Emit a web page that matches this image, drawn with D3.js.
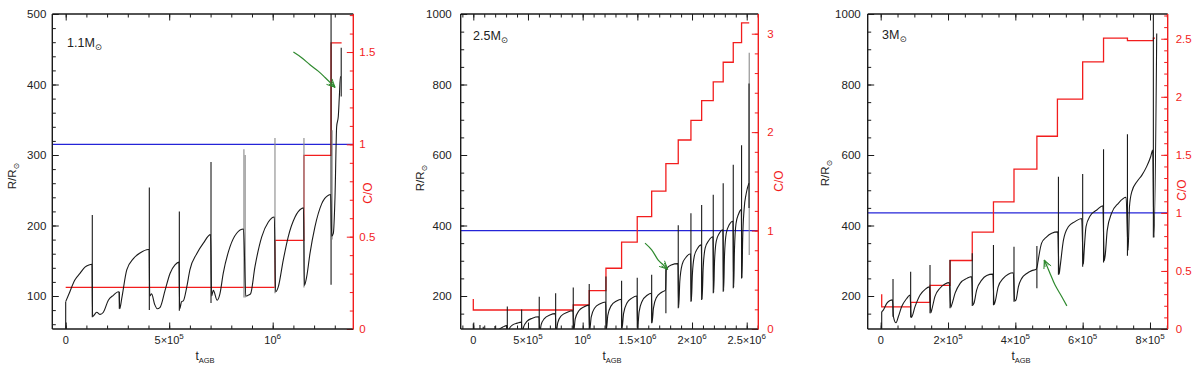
<!DOCTYPE html>
<html>
<head>
<meta charset="utf-8">
<script src="https://cdn.jsdelivr.net/npm/d3@7"></script>
<style>
  body { margin: 0; background: #fff; }
  text { font-family: "Liberation Sans", "DejaVu Sans", sans-serif; }
</style>
</head>
<body>
<svg id="chart" width="1200" height="370"></svg>
<script>
// Time is in units of 1e5 yr, radius in R_sun, C/O is the number ratio.

// ---- 1.1 Msun ----
var P1_CURVE = [
  [0.00, 92], [0.13, 101], [0.45, 123], [0.69, 132], [0.93, 141], [1.12, 144], [1.27, 145],
  [1.30, 71], [1.50, 77], [1.66, 74], [1.82, 77], [2.06, 94], [2.30, 101], [2.54, 106], [2.58, 105],
  [2.61, 82], [2.71, 97], [2.95, 137], [3.27, 153], [3.59, 161], [3.99, 166], [4.03, 166],
  [4.06, 100], [4.15, 103], [4.30, 88], [4.42, 82], [4.56, 84], [4.80, 108], [5.04, 132], [5.28, 144], [5.47, 148],
  [5.51, 82], [5.60, 92], [5.68, 93], [5.85, 113], [6.00, 137], [6.33, 160], [6.65, 175], [7.00, 187],
  [7.05, 100], [7.13, 108], [7.32, 94], [7.45, 103], [7.61, 132], [7.94, 170], [8.26, 189], [8.59, 195],
  [8.70, 100], [8.81, 101], [8.93, 103], [9.14, 141], [9.47, 184], [9.79, 205], [10.08, 212],
  [10.14, 106], [10.27, 113], [10.51, 151], [10.75, 184], [11.08, 212], [11.40, 224], [11.49, 225],
  [11.53, 115], [11.64, 127], [11.80, 160], [12.04, 198], [12.37, 231], [12.69, 243], [12.80, 244],
  [12.85, 185], [12.93, 189], [13.01, 240], [13.09, 340], [13.17, 355], [13.22, 383], [13.27, 411], [13.30, 411]
];
// [time, top, bottom, grey]
var P1_SPIKES = [
  [0, 92, 50, 0], [1.285, 215, 70, 0], [2.59, 106, 82, 0], [4.04, 254, 80, 0], [5.49, 220, 79, 0],
  [7.02, 290, 90, 0], [8.61, 308, 98, 1], [8.67, 300, 98, 1], [10.11, 324, 104, 1], [11.51, 324, 112, 1],
  [12.82, 510, 116, 0], [12.87, 335, 180, 1], [13.31, 452, 383, 0]
];
var P1_CO = [[0, 0.225], [10.11, 0.48], [11.51, 0.94], [12.82, 1.55], [13.33, 1.55]];
var P1_ARROW = [[11.0, 446], [11.4, 438], [11.8, 428], [12.2, 419], [12.53, 410], [13.01, 396]];

// ---- 2.5 Msun ----
var P2_CURVE = [
  [0.0, 95], [0.3, 98], [0.58, 100], [0.65, 92], [0.88, 100], [0.95, 92], [1.5, 100], [1.95, 102],
  [2.0, 92], [2.3, 104], [2.7, 112], [3.08, 116],
  [3.15, 92], [3.3, 108], [3.6, 118], [4.0, 123], [4.40, 126],
  [4.46, 92], [4.6, 112], [4.9, 128], [5.4, 137], [6.0, 141],
  [6.07, 92], [6.2, 118], [6.5, 136], [7.0, 146], [7.5, 150],
  [7.57, 95], [7.72, 124], [8.05, 144], [8.6, 154], [9.11, 158],
  [9.18, 100], [9.32, 135], [9.65, 158], [10.1, 169], [10.57, 174],
  [10.64, 102], [10.78, 140], [11.1, 166], [11.6, 178], [12.10, 183],
  [12.17, 105], [12.3, 145], [12.6, 172], [13.1, 186], [13.53, 191],
  [13.60, 108], [13.74, 150], [14.05, 180], [14.5, 194], [14.96, 200],
  [15.03, 112], [15.16, 155], [15.45, 186], [15.9, 202], [16.28, 208],
  [16.35, 125], [16.47, 165], [16.75, 196], [17.2, 210], [17.58, 217],
  [17.64, 274], [17.8, 282], [18.1, 288], [18.71, 292],
  [18.78, 168], [18.88, 240], [19.1, 290], [19.45, 310], [19.87, 320],
  [19.94, 186], [20.03, 260], [20.2, 312], [20.5, 335], [20.85, 345],
  [20.92, 192], [21.02, 280], [21.2, 336], [21.55, 358], [21.91, 368],
  [21.98, 210], [22.06, 300], [22.22, 356], [22.5, 378], [22.82, 388],
  [22.89, 215], [22.97, 315], [23.13, 378], [23.4, 402], [23.74, 412],
  [23.81, 225], [23.88, 330], [24.02, 405], [24.25, 432], [24.50, 445],
  [24.57, 252], [24.63, 360], [24.76, 445], [24.95, 490], [25.20, 520]
];
var P2_SPIKES = [
  [0.0, 122, 92, 0], [0.61, 118, 92, 0], [0.91, 113, 92, 0], [1.98, 115, 92, 0],
  [3.11, 170, 92, 0], [4.42, 162, 92, 0], [6.03, 198, 92, 0], [7.53, 208, 95, 0], [9.14, 224, 100, 0],
  [10.60, 234, 100, 0], [12.13, 255, 105, 0], [13.56, 243, 108, 0], [14.99, 252, 110, 0], [16.31, 260, 123, 0],
  [17.61, 283, 151, 0], [18.74, 401, 165, 0], [19.90, 435, 184, 0], [20.88, 458, 189, 0], [21.94, 487, 208, 0],
  [22.85, 520, 212, 0], [23.77, 572, 222, 0], [24.53, 628, 250, 0], [25.23, 890, 316, 1], [25.21, 803, 450, 0]
];
var P2_CO = [
  [0, 0.305], [0, 0.193], [9.14, 0.244], [10.60, 0.39], [12.13, 0.617], [13.56, 0.882], [14.99, 1.142],
  [16.31, 1.40], [17.61, 1.68], [18.74, 1.92], [19.90, 2.12], [20.88, 2.32], [21.94, 2.51], [22.85, 2.71],
  [23.77, 2.91], [24.53, 3.11], [25.23, 3.11]
];
var P2_ARROW = [[15.7, 350], [16.31, 331], [16.91, 302], [17.37, 288], [17.77, 276]];

// ---- 3 Msun ----
var P3_CURVE = [
  [0.03, 155], [0.077, 160], [0.18, 179], [0.276, 187], [0.35, 189],
  [0.38, 141], [0.455, 124], [0.523, 141], [0.624, 170], [0.773, 193], [0.87, 203],
  [0.91, 139], [1.02, 170], [1.17, 203], [1.32, 219], [1.45, 226],
  [1.49, 152], [1.515, 160], [1.61, 198], [1.76, 222], [1.91, 234], [2.04, 238],
  [2.08, 168], [2.11, 175], [2.21, 208], [2.36, 236], [2.56, 250], [2.70, 255],
  [2.74, 174], [2.77, 179], [2.85, 217], [3.00, 245], [3.15, 258], [3.33, 262],
  [3.37, 176], [3.40, 184], [3.49, 226], [3.64, 250], [3.79, 262], [3.94, 266],
  [3.98, 186], [4.02, 189], [4.09, 226], [4.19, 250], [4.34, 264], [4.49, 272], [4.62, 276],
  [4.66, 290], [4.68, 302], [4.78, 350], [4.93, 368], [5.08, 378], [5.26, 382],
  [5.30, 262], [5.33, 283], [5.43, 359], [5.58, 397], [5.77, 411], [5.97, 420],
  [6.02, 290], [6.04, 321], [6.10, 397], [6.22, 427], [6.42, 444], [6.60, 456],
  [6.64, 300], [6.67, 316], [6.73, 387], [6.86, 435], [7.06, 463], [7.29, 480],
  [7.35, 330], [7.39, 453], [7.46, 496], [7.61, 524], [7.76, 543], [7.90, 567], [8.02, 595], [8.08, 614],
  [8.12, 366], [8.20, 945]
];
var P3_SPIKES = [
  [0.03, 155, 100, 0], [0.366, 248, 141, 0], [0.89, 269, 139, 0], [1.465, 288, 151, 0], [2.06, 302, 165, 0],
  [2.72, 321, 172, 0], [3.35, 345, 174, 0], [3.96, 340, 184, 0], [4.64, 342, 222, 0], [5.28, 538, 260, 0],
  [6.00, 546, 283, 0], [6.62, 616, 295, 0], [7.33, 659, 314, 0], [8.10, 1010, 366, 0]
];
var P3_CO = [
  [0.03, 0.30], [0.03, 0.19], [0.89, 0.23], [1.465, 0.375], [2.06, 0.59], [2.72, 0.834], [3.35, 1.095],
  [3.96, 1.377], [4.64, 1.66], [5.25, 1.98], [6.00, 2.30], [6.62, 2.505], [7.33, 2.483], [8.10, 2.505], [8.15, 2.505]
];
var P3_ARROW = [[5.53, 172], [5.38, 198], [5.18, 231], [5.01, 269], [4.86, 302]];

// Tick values and labels.
var P1_X_TICKS = [0, 5, 10], P1_X_LABELS = ['0', '5×10^5', '10^6'];
var P2_X_TICKS = [0, 5, 10, 15, 20, 25], P2_X_LABELS = ['0', '5×10^5', '10^6', '1.5×10^6', '2×10^6', '2.5×10^6'];
var P3_X_TICKS = [0, 2, 4, 6, 8], P3_X_LABELS = ['0', '2×10^5', '4×10^5', '6×10^5', '8×10^5'];
var P1_R_TICKS = [100, 200, 300, 400, 500];
var P23_R_TICKS = [200, 400, 600, 800, 1000];
var P1_CO_TICKS = [0, 0.5, 1, 1.5];
var P2_CO_TICKS = [0, 1, 2, 3];
var P3_CO_TICKS = [0, 0.5, 1, 1.5, 2, 2.5];
var MASS_LABELS = ['1.1', '2.5', '3'];

// Layout.
var TOP = 14, BOTTOM = 329;
var BLACK = '#1a1a1a', RED = '#f21d1d', BLUE = '#2424d8', GREEN = '#2f8a2f';

var svg = d3.select('#chart');

function addSup(sel, str) {
  var parts = str.split('^');
  sel.append('tspan').text(parts[0]);
  if (parts.length > 1) {
    sel.append('tspan').attr('dy', -5).attr('font-size', 8).text(parts[1]);
  }
}

function drawPanel(cfg) {
  var x = d3.scaleLinear().domain(cfg.xDomain).range([cfg.left, cfg.right]);
  var y = d3.scaleLinear().domain(cfg.yDomain).range([BOTTOM, TOP]);
  var yc = d3.scaleLinear().domain(cfg.coDomain).range([BOTTOM, TOP]);
  var g = svg.append('g');

  g.append('clipPath').attr('id', 'clip' + cfg.id)
    .append('rect')
    .attr('x', cfg.left).attr('y', TOP)
    .attr('width', cfg.right - cfg.left).attr('height', BOTTOM - TOP);
  var plot = g.append('g').attr('clip-path', 'url(#clip' + cfg.id + ')');

  // C/O = 1
  plot.append('line')
    .attr('x1', cfg.left).attr('x2', cfg.right)
    .attr('y1', yc(1)).attr('y2', yc(1))
    .attr('stroke', BLUE).attr('stroke-width', 1.2);

  plot.append('path').datum(cfg.co)
    .attr('fill', 'none').attr('stroke', RED).attr('stroke-width', 1.3)
    .attr('d', d3.line().x(function(d) { return x(d[0]); })
      .y(function(d) { return yc(d[1]); }).curve(d3.curveStepAfter));

  plot.selectAll('.spike').data(cfg.spikes).enter().append('line')
    .attr('class', 'spike')
    .attr('x1', function(d) { return x(d[0]); }).attr('x2', function(d) { return x(d[0]); })
    .attr('y1', function(d) { return y(d[1]); }).attr('y2', function(d) { return y(d[2]); })
    .attr('stroke', function(d) { return d[3] ? '#8a8a8a' : BLACK; })
    .attr('stroke-width', 1.1);

  plot.append('path').datum(cfg.curve)
    .attr('fill', 'none').attr('stroke', BLACK).attr('stroke-width', 1.1)
    .attr('d', d3.line().x(function(d) { return x(d[0]); })
      .y(function(d) { return y(d[1]); }).curve(d3.curveMonotoneX));

  // hand-drawn green arrow
  var ap = cfg.arrow.map(function(d) { return [x(d[0]), y(d[1])]; });
  plot.append('path').datum(ap)
    .attr('fill', 'none').attr('stroke', GREEN).attr('stroke-width', 1.2)
    .attr('d', d3.line().curve(d3.curveCatmullRom));
  var tip = ap[ap.length - 1], prev = ap[ap.length - 2];
  var ang = Math.atan2(tip[1] - prev[1], tip[0] - prev[0]);
  [0.45, -0.45, 0.3, -0.3].forEach(function(a, i) {
    var len = i < 2 ? 9 : 7;
    plot.append('line')
      .attr('x1', tip[0]).attr('y1', tip[1])
      .attr('x2', tip[0] - len * Math.cos(ang + a)).attr('y2', tip[1] - len * Math.sin(ang + a))
      .attr('stroke', GREEN).attr('stroke-width', 1);
  });

  // ticks
  function ticks(axis, tx, ty, vals, size) {
    g.append('g').attr('transform', 'translate(' + tx + ',' + ty + ')')
      .call(axis.tickValues(vals).tickSize(size).tickSizeOuter(0).tickFormat(''))
      .call(function(s) { s.select('.domain').remove(); });
  }
  var xMinor = d3.range(Math.ceil(cfg.xDomain[0] / cfg.xMinor) * cfg.xMinor, cfg.xDomain[1], cfg.xMinor);
  var yMinor = d3.range(Math.ceil(cfg.yDomain[0] / cfg.yMinor) * cfg.yMinor, cfg.yDomain[1] + 1e-6, cfg.yMinor);
  var cMinor = d3.range(0, cfg.coDomain[1], cfg.coMinor);
  ticks(d3.axisBottom(x), 0, BOTTOM, xMinor, -3.5);
  ticks(d3.axisBottom(x), 0, BOTTOM, cfg.xTicks, -6.5);
  ticks(d3.axisTop(x), 0, TOP, xMinor, -3.5);
  ticks(d3.axisTop(x), 0, TOP, cfg.xTicks, -6.5);
  ticks(d3.axisLeft(y), cfg.left, 0, yMinor, -3.5);
  ticks(d3.axisLeft(y), cfg.left, 0, cfg.rTicks, -6.5);
  ticks(d3.axisRight(yc), cfg.right, 0, cMinor, -3.5);
  ticks(d3.axisRight(yc), cfg.right, 0, cfg.coTicks, -6.5);
  g.selectAll('.tick line').attr('stroke', BLACK).attr('stroke-width', 1);
  g.selectAll('.tick').filter(function() {
    return this.parentNode.getAttribute('transform') === 'translate(' + cfg.right + ',0)';
  }).select('line').attr('stroke', RED);

  // frame
  var frame = [[cfg.left, TOP, cfg.right, TOP], [cfg.left, TOP, cfg.left, BOTTOM], [cfg.left, BOTTOM, cfg.right, BOTTOM]];
  frame.forEach(function(f) {
    g.append('line').attr('x1', f[0]).attr('y1', f[1]).attr('x2', f[2]).attr('y2', f[3])
      .attr('stroke', BLACK).attr('stroke-width', 1.4);
  });
  g.append('line').attr('x1', cfg.right).attr('x2', cfg.right).attr('y1', TOP).attr('y2', BOTTOM)
    .attr('stroke', RED).attr('stroke-width', 1.4);

  // tick labels
  cfg.xTicks.forEach(function(v, i) {
    var t = g.append('text').attr('x', x(v)).attr('y', 344)
      .attr('text-anchor', 'middle').attr('font-size', 11).attr('fill', '#222');
    addSup(t, cfg.xLabels[i]);
  });
  cfg.rTicks.forEach(function(v) {
    g.append('text').attr('x', cfg.left - cfg.lGap).attr('y', y(v)).attr('dy', '0.35em')
      .attr('text-anchor', 'end').attr('font-size', 11.5).attr('fill', '#222').text(v);
  });
  cfg.coTicks.forEach(function(v) {
    g.append('text').attr('x', cfg.right + cfg.rGap).attr('y', yc(v)).attr('dy', '0.35em')
      .attr('text-anchor', 'start').attr('font-size', 11.5).attr('fill', RED).text(v);
  });

  // axis titles
  var ry = g.append('text')
    .attr('transform', 'translate(' + cfg.rTitle[0] + ',' + cfg.rTitle[1] + ') rotate(-90)')
    .attr('text-anchor', 'middle').attr('font-size', 11.5).attr('fill', '#222');
  ry.append('tspan').text('R/R');
  ry.append('tspan').attr('dy', 3).attr('font-size', 8).text('⊙');
  g.append('text')
    .attr('transform', 'translate(' + cfg.cTitle[0] + ',' + cfg.cTitle[1] + ') rotate(-90)')
    .attr('text-anchor', 'middle').attr('font-size', 12).attr('fill', RED).text('C/O');
  var tx = g.append('text').attr('x', cfg.tTitle).attr('y', 360)
    .attr('text-anchor', 'middle').attr('font-size', 12).attr('fill', '#222');
  tx.append('tspan').text('t');
  tx.append('tspan').attr('dy', 3).attr('font-size', 7.5).text('AGB');

  var m = g.append('text').attr('x', cfg.mass[0]).attr('y', cfg.mass[1])
    .attr('font-size', 12.5).attr('fill', '#222');
  m.append('tspan').text(cfg.massLabel + 'M');
  m.append('tspan').attr('dy', 3).attr('font-size', 8.5).text('⊙');
}

drawPanel({
  id: 1, left: 52.3, right: 353.3, xDomain: [-0.647, 13.894], yDomain: [53.2, 500], coDomain: [0, 1.706],
  xMinor: 1, yMinor: 20, coMinor: 0.1,
  curve: P1_CURVE, spikes: P1_SPIKES, co: P1_CO, arrow: P1_ARROW,
  xTicks: P1_X_TICKS, xLabels: P1_X_LABELS, rTicks: P1_R_TICKS, coTicks: P1_CO_TICKS,
  lGap: 6, rGap: 6, rTitle: [16, 176], cTitle: [372, 193], tTitle: 205, mass: [67, 47], massLabel: MASS_LABELS[0]
});
drawPanel({
  id: 2, left: 460.7, right: 758.3, xDomain: [-1.152, 26.06], yDomain: [106.4, 1000], coDomain: [0, 3.20],
  xMinor: 1, yMinor: 50, coMinor: 0.2,
  curve: P2_CURVE, spikes: P2_SPIKES, co: P2_CO, arrow: P2_ARROW,
  xTicks: P2_X_TICKS, xLabels: P2_X_LABELS, rTicks: P23_R_TICKS, coTicks: P2_CO_TICKS,
  lGap: 9, rGap: 9, rTitle: [424, 178], cTitle: [783, 181], tTitle: 612, mass: [473, 40], massLabel: MASS_LABELS[1]
});
drawPanel({
  id: 3, left: 867.7, right: 1167.7, xDomain: [-0.386, 8.526], yDomain: [106.4, 1000], coDomain: [0, 2.713],
  xMinor: 0.5, yMinor: 50, coMinor: 0.1,
  curve: P3_CURVE, spikes: P3_SPIKES, co: P3_CO, arrow: P3_ARROW,
  xTicks: P3_X_TICKS, xLabels: P3_X_LABELS, rTicks: P23_R_TICKS, coTicks: P3_CO_TICKS,
  lGap: 7, rGap: 8, rTitle: [829, 173], cTitle: [1186, 190], tTitle: 1021, mass: [882, 39], massLabel: MASS_LABELS[2]
});
</script>
</body>
</html>
